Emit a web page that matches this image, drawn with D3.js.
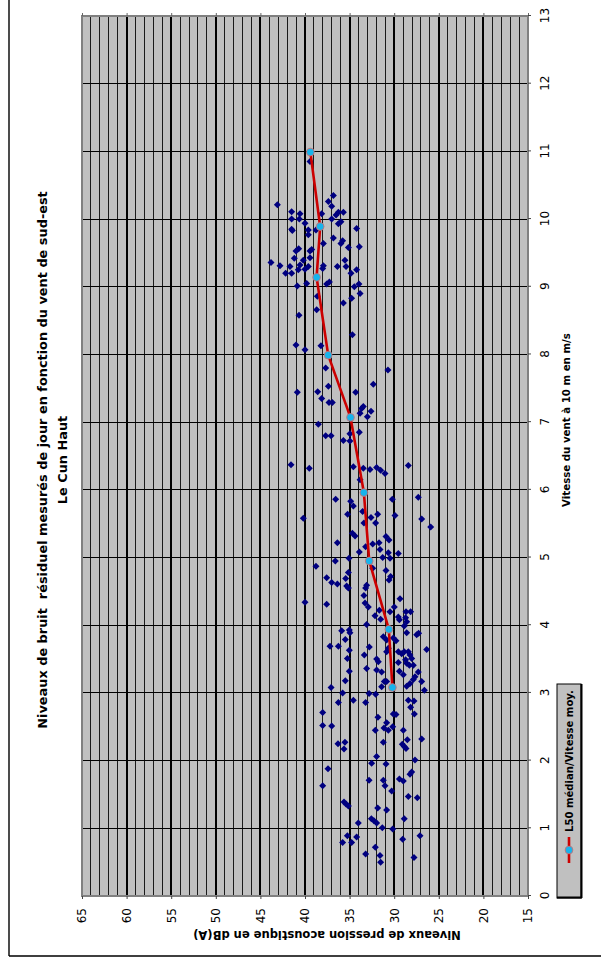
<!DOCTYPE html>
<html>
<head>
<meta charset="utf-8">
<script src="https://cdn.jsdelivr.net/npm/d3@7"></script>
<style>
  html, body { margin: 0; padding: 0; background: #fff; }
  svg { display: block; }
</style>
</head>
<body>
<svg id="chart" width="601" height="971"></svg>
<script>
// Measured residual noise levels (daytime, south-east wind) — Le Cun Haut
// Each measurement: wind speed at 10 m (m/s) and sound pressure level dB(A)
const windSpeed = [
  10.85,10.35,10.26,10.19,10.21,10.11,10.08,10.08,10.10,10.10,10.06,10.00,10.00,9.94,10.00,9.93,9.96,
  9.85,9.83,9.84,9.84,9.86,9.77,9.72,9.64,9.64,9.68,9.59,9.58,9.55,9.53,9.53,9.56,9.43,9.42,9.39,9.36,
  9.31,9.30,9.32,9.30,9.31,9.27,9.30,9.30,9.39,9.20,9.20,9.25,9.26,9.20,9.25,9.01,9.05,9.04,9.07,9.00,
  9.04,8.90,8.83,8.86,8.76,8.66,8.58,8.29,8.14,8.07,8.13,7.80,7.77,
  7.53,7.44,7.45,7.44,7.56,7.35,7.29,7.29,7.20,7.23,7.16,7.08,7.13,6.97,6.85,6.83,6.80,6.80,6.73,6.72,
  6.37,6.32,6.34,6.32,6.30,6.33,6.29,6.24,6.36,6.15,5.86,5.83,5.76,5.86,5.89,5.64,5.68,5.59,5.64,5.51,
  5.62,5.58,5.57,5.45,5.51,5.36,5.32,5.22,5.31,5.26,5.22,5.20,5.16,5.08,5.12,5.07,5.06,5.00,4.99,4.99,
  4.95,4.87,4.78,4.81,4.84,4.72,4.67,4.70,4.69,4.63,4.61,4.58,4.55,4.59,4.55,4.39,4.44,4.34,4.31,4.33,
  4.27,4.27,4.20,4.22,4.14,4.09,4.12,4.08,4.20,4.20,4.11,
  4.01,3.92,3.93,3.89,3.99,4.05,3.89,3.86,3.88,3.79,3.69,3.69,3.68,3.83,3.78,3.81,3.77,3.64,3.63,3.56,
  3.66,3.61,3.61,3.58,3.61,3.61,3.56,3.51,3.51,3.50,3.46,3.36,3.49,3.44,3.41,3.41,3.45,3.32,3.32,3.34,
  3.31,3.27,3.31,3.24,3.20,3.18,3.17,3.17,3.17,3.08,3.09,3.10,3.14,3.04,3.00,2.99,2.98,2.86,2.89,2.86,
  2.89,2.88,2.79,2.71,2.69,2.69,2.68,2.64,2.52,2.51,2.56,2.48,2.45,2.50,2.45,2.45,2.31,2.32,2.25,2.27,
  2.27,2.17,2.24,2.21,2.18,2.06,1.96,1.95,2.01,1.88,1.80,1.83,1.73,1.70,1.71,1.71,1.63,1.55,1.63,1.47,
  1.45,1.39,1.36,1.33,1.30,1.27,1.08,1.14,1.11,1.08,1.14,1.01,0.99,0.89,0.87,0.79,0.79,0.89,0.84,0.62,
  0.72,0.60,0.50,0.57
];
const levelDb = [
  39.44,36.82,37.38,37.01,43.10,41.50,40.56,38.13,36.26,35.70,36.52,41.50,40.64,40.00,37.01,36.26,35.97,
  41.50,41.42,39.63,38.77,34.21,39.63,36.82,37.94,35.97,35.78,33.91,35.14,39.25,39.44,41.01,40.71,39.44,41.20,40.19,43.81,
  42.80,41.68,40.56,39.63,37.94,38.02,36.37,35.40,35.52,42.17,41.50,40.75,40.00,34.84,34.21,40.86,39.81,37.57,37.27,34.47,
  33.95,33.83,34.77,38.62,35.70,38.69,40.67,34.69,41.01,40.00,38.21,37.68,30.70,
  37.38,40.86,38.58,34.32,32.34,38.13,37.31,36.94,33.65,33.46,32.60,33.01,33.83,38.51,33.91,34.96,37.68,37.08,35.70,34.96,
  41.57,39.52,34.58,33.46,32.71,31.97,31.52,31.03,28.42,33.83,36.56,34.88,34.58,30.21,27.30,35.22,33.54,32.60,31.85,32.08,
  29.91,40.19,26.92,25.91,33.39,34.69,34.39,36.37,30.92,30.58,31.70,32.41,33.20,33.91,31.59,30.66,29.54,31.29,30.47,35.07,
  36.60,38.77,35.14,30.92,32.41,30.40,30.58,37.57,35.44,37.01,36.37,35.33,35.14,33.09,33.20,29.35,33.39,40.00,37.57,33.27,
  32.90,29.99,30.47,31.67,32.15,31.52,29.54,29.42,28.68,28.16,28.72,
  33.09,35.89,35.03,34.96,28.87,28.60,28.60,27.48,27.26,35.48,37.20,36.26,32.79,31.22,30.85,30.10,29.80,26.36,35.03,33.35,
  30.66,30.85,29.54,29.16,28.87,28.42,28.23,28.04,35.25,31.97,31.78,33.09,28.72,28.60,28.30,27.86,29.54,29.42,35.03,31.97,
  31.41,28.98,27.30,27.67,27.86,35.48,31.11,30.85,26.92,37.08,31.41,28.60,28.23,26.62,35.78,32.82,32.08,36.26,34.58,33.20,
  28.42,27.78,28.16,38.02,27.74,30.10,29.80,31.82,38.02,37.01,30.85,31.14,30.66,30.17,32.12,28.98,28.53,26.92,36.30,35.52,
  31.22,35.63,29.09,28.87,28.68,31.97,32.53,30.92,27.67,37.42,28.23,28.04,29.42,28.98,32.82,31.22,31.03,30.28,38.02,28.42,
  27.41,35.63,35.40,35.14,31.85,30.85,34.02,32.56,32.27,31.97,28.87,31.33,30.17,35.25,34.21,35.78,34.77,27.11,29.05,33.20,
  32.12,31.59,31.52,27.78
];

// L50 median level per wind-speed class, plotted at the class mean speed
const medianWind = [3.08, 3.94, 4.95, 5.96, 7.07, 7.99, 9.14, 9.89, 10.99];
const medianDb   = [30.2, 30.6, 32.8, 33.4, 34.9, 37.4, 38.7, 38.3, 39.4];

// Axis tick labels
const windTicks = [0, 1, 2, 3, 4, 5, 6, 7, 8, 9, 10, 11, 12, 13];
const dbTicks   = [15, 20, 25, 30, 35, 40, 45, 50, 55, 60, 65];

const titleLines = [
  "Niveaux de bruit  résiduel mesurés de jour en fonction du vent de sud-est",
  "Le Cun Haut"
];
const windTitle = "Vitesse du vent à 10 m en m/s";
const dbTitle = "Niveaux de pression acoustique en dB(A)";
const legendLabel = "L50 médian/Vitesse moy.";

// The chart is laid out landscape (971 x 601) and turned a quarter turn
// counter-clockwise to fit the portrait page.
const W = 971;
const FONT = "'DejaVu Sans', 'Noto Sans', sans-serif";

const svg = d3.select("#chart");
const g = svg.append("g").attr("transform", `translate(0,${W}) rotate(-90)`);

const plot = { left: 75, right: 955, top: 82, bottom: 528 };

const x = d3.scaleLinear().domain([0, 13]).range([plot.left, plot.right]);
const y = d3.scaleLinear().domain([15, 65]).range([plot.bottom, plot.top]);

// Outer chart frame (only the two edges inside the page are visible)
g.append("path")
  .attr("d", `M15,9 L${W + 5},9 M15,9 L15,610`)
  .attr("fill", "none")
  .attr("stroke", "#000")
  .attr("stroke-width", 1.4);

// Plot area
g.append("rect")
  .attr("x", plot.left).attr("y", plot.top)
  .attr("width", plot.right - plot.left).attr("height", plot.bottom - plot.top)
  .attr("fill", "#c0c0c0");

const grid = g.append("g").attr("shape-rendering", "crispEdges");

// Minor level gridlines every 1 dB
grid.selectAll("line.minor")
  .data(d3.range(16, 65).filter(v => v % 5 !== 0))
  .join("line")
  .attr("class", "minor")
  .attr("x1", plot.left).attr("x2", plot.right)
  .attr("y1", d => y(d)).attr("y2", d => y(d))
  .attr("stroke", "#1a1a1a").attr("stroke-width", 1);

// Wind-speed gridlines every 1 m/s
grid.selectAll("line.wind")
  .data(windTicks.filter(v => v > 0 && v < 13))
  .join("line")
  .attr("class", "wind")
  .attr("x1", d => x(d)).attr("x2", d => x(d))
  .attr("y1", plot.top).attr("y2", plot.bottom)
  .attr("stroke", "#000").attr("stroke-width", 1);

// Major level gridlines every 5 dB
grid.selectAll("line.major")
  .data(dbTicks.filter(v => v > 15 && v < 65))
  .join("line")
  .attr("class", "major")
  .attr("x1", plot.left).attr("x2", plot.right)
  .attr("y1", d => y(d)).attr("y2", d => y(d))
  .attr("stroke", "#000").attr("stroke-width", 2);

// Plot border
g.append("rect")
  .attr("x", plot.left).attr("y", plot.top)
  .attr("width", plot.right - plot.left).attr("height", plot.bottom - plot.top)
  .attr("fill", "none")
  .attr("stroke", "#808080").attr("stroke-width", 2);

// Axes
function styleAxis(sel, size) {
  sel.select(".domain").remove();
  sel.selectAll(".tick line").attr("stroke", "#444").attr("stroke-width", 1);
  sel.selectAll(".tick text")
    .attr("fill", "#000")
    .attr("font-family", FONT)
    .attr("font-size", size);
}

const dbAxis = g.append("g")
  .attr("transform", `translate(${plot.left},0)`)
  .call(d3.axisLeft(y).tickValues(dbTicks).tickSize(3).tickPadding(9).tickFormat(d3.format("d")));
styleAxis(dbAxis, 12);

// Level ticks repeated on the far edge (no labels)
g.append("g")
  .attr("transform", `translate(${plot.right},0)`)
  .call(d3.axisRight(y).tickValues(dbTicks).tickSize(3).tickFormat(""))
  .call(s => { s.select(".domain").remove(); s.selectAll(".tick line").attr("stroke", "#666"); });

const windAxis = g.append("g")
  .attr("transform", `translate(0,${plot.bottom})`)
  .call(d3.axisBottom(x).tickValues(windTicks).tickSize(3).tickPadding(9).tickFormat(d3.format("d")));
styleAxis(windAxis, 12);

// Scale a text element's font size so that it spans the given length
function fitText(sel, target) {
  const len = sel.node().getComputedTextLength();
  const fs = parseFloat(sel.attr("font-size"));
  const size = fs * target / len;
  sel.attr("font-size", size.toFixed(2));
  return size;
}

// Titles: both lines share the size that makes the first line span 538 px
const titleCx = 511;
const titleText = titleLines.map((t, i) => g.append("text")
  .attr("x", titleCx).attr("y", 42 + i * 20)
  .attr("text-anchor", "middle").attr("dominant-baseline", "central")
  .attr("font-family", FONT).attr("font-weight", "bold")
  .attr("font-size", 13)
  .attr("fill", "#000")
  .style("white-space", "pre")
  .text(t));
const titleSize = fitText(titleText[0], 538);
titleText[1].attr("font-size", titleSize.toFixed(2));

const wt = g.append("text")
  .attr("x", 551).attr("y", 566)
  .attr("text-anchor", "middle").attr("dominant-baseline", "central")
  .attr("font-family", FONT).attr("font-weight", "bold").attr("font-size", 12)
  .attr("fill", "#000")
  .text(windTitle);
fitText(wt, 174);

const dt = g.append("text")
  .attr("transform", `translate(36,327) rotate(-90)`)
  .attr("text-anchor", "middle").attr("dominant-baseline", "central")
  .attr("font-family", FONT).attr("font-weight", "bold").attr("font-size", 12)
  .attr("fill", "#000")
  .text(dbTitle);
fitText(dt, 268);

// Scatter of individual measurements
const points = windSpeed.map((w, i) => ({ w, db: levelDb[i] }));
const diamond = (r) => `M0,${-r}L${r},0L0,${r}L${-r},0Z`;
g.append("g")
  .selectAll("path")
  .data(points)
  .join("path")
  .attr("transform", d => `translate(${x(d.w)},${y(d.db)})`)
  .attr("d", diamond(3.5))
  .attr("fill", "#000080");

// Median curve
const medians = medianWind.map((w, i) => ({ w, db: medianDb[i] }));
g.append("path")
  .datum(medians)
  .attr("fill", "none")
  .attr("stroke", "#cc0000")
  .attr("stroke-width", 2.6)
  .attr("stroke-linejoin", "round")
  .attr("d", d3.line().x(d => x(d.w)).y(d => y(d.db)));

g.append("g")
  .selectAll("circle")
  .data(medians)
  .join("circle")
  .attr("cx", d => x(d.w)).attr("cy", d => y(d.db))
  .attr("r", 3.9)
  .attr("fill", "#16b4ec")
  .attr("stroke", "#d86a6a")
  .attr("stroke-width", 0.8);

// Legend
const lg = g.append("g");
lg.append("rect")
  .attr("x", 73).attr("y", 557).attr("width", 214).attr("height", 24)
  .attr("fill", "#c0c0c0").attr("stroke", "#000").attr("stroke-width", 1);
lg.append("path")
  .attr("d", "M73,581.5 L287,581.5 M73.5,557 L73.5,582")
  .attr("stroke", "#000").attr("stroke-width", 2);
lg.append("line")
  .attr("x1", 108).attr("x2", 134).attr("y1", 569).attr("y2", 569)
  .attr("stroke", "#cc0000").attr("stroke-width", 2.6);
lg.append("circle")
  .attr("cx", 121).attr("cy", 569).attr("r", 3.9)
  .attr("fill", "#16b4ec").attr("stroke", "#d86a6a").attr("stroke-width", 0.8);
const lt = lg.append("text")
  .attr("x", 139).attr("y", 569)
  .attr("dominant-baseline", "central")
  .attr("font-family", FONT).attr("font-weight", "bold").attr("font-size", 11)
  .attr("fill", "#000")
  .text(legendLabel);
fitText(lt, 142);
</script>
</body>
</html>
